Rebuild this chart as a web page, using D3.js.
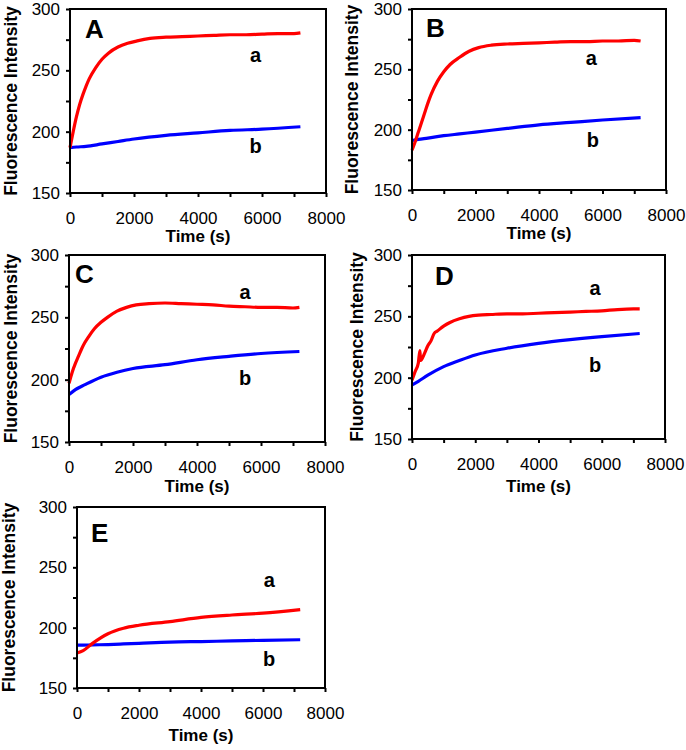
<!DOCTYPE html>
<html>
<head>
<meta charset="utf-8">
<script src="https://cdn.jsdelivr.net/npm/d3@7"></script>
<style>
  body { margin: 0; background: #fff; }
  svg { font-family: "Liberation Sans", Arial, sans-serif; }
</style>
</head>
<body>
<div id="chart"></div>
<script>
// time samples (s)
var times = [0, 100, 200, 300, 400, 500, 600, 800, 1000, 1200, 1500, 1800, 2100, 2500, 3000, 3500, 4000, 4500, 5000, 5500, 6000, 6500, 7000, 7200];
var slowTimes = [0, 200, 500, 1000, 1500, 2000, 3000, 4000, 5000, 6000, 7200];
var dTimes = [0, 100, 200, 250, 270, 400, 500, 600, 700, 800, 1000, 1200, 1500, 1800, 2100, 2500, 3000, 3500, 4000, 4500, 5000, 5500, 6000, 6500, 7000, 7200];

var redA = [187, 200, 212, 222, 230, 237, 243, 252, 259, 264, 269, 272, 274, 276, 277, 277.5, 278, 278.5, 279, 279, 279.5, 280, 280, 280.5];
var blueA = [187, 187.5, 188, 190, 192, 194, 197, 199, 201, 202, 204];

var redB = [183, 190, 198, 206, 214, 222, 229, 240, 248, 254, 260, 265, 268, 270, 271, 271.5, 272, 272.5, 273, 273, 273.5, 273.5, 274, 273.5];
var blueB = [191, 192, 193, 195, 196.5, 198, 201, 204, 206, 208, 210];

var redC = [197, 206, 213, 219, 225, 230, 234, 241, 246, 250, 255, 258, 260, 261, 261.5, 261, 260.5, 260, 259, 258.5, 258, 258, 257.5, 258];
var blueC = [188, 192, 196, 202, 206, 209, 212, 216, 218.7, 221, 222.6];

var redD = [198, 205, 212, 222, 214, 220, 226, 230, 236, 238, 242, 245, 248, 250, 251, 251.5, 252, 252, 252.5, 253, 253.5, 254, 254.5, 255.5, 256, 256];
var blueD = [194, 197, 202, 209, 214, 218.5, 224, 228, 231, 233.5, 236];

var redE = [179, 181, 187, 195, 199.5, 202, 205, 208.5, 210.5, 212, 215];
var blueE = [185.5, 185.5, 185.7, 186, 186.5, 187, 188, 188.5, 189, 189.5, 190];

var xTicks = d3.range(0, 8001, 1000);
var yTicks = d3.range(150, 301, 25);

var panels = [
  { letter: "A", box: [70, 9, 326, 193], red: [times, redA], blue: [slowTimes, blueA], a: [5800, 257], b: [5800, 183], lp: [15, 29], yl: 58, tl: 45 },
  { letter: "B", box: [412, 9, 666, 190], red: [times, redB], blue: [slowTimes, blueB], a: [5650, 254], b: [5700, 186], lp: [14, 28], yl: 59, tl: 45 },
  { letter: "C", box: [69, 255, 325, 442], red: [times, redC], blue: [slowTimes, blueC], a: [5500, 265], b: [5500, 196], lp: [6, 28], yl: 57, tl: 46 },
  { letter: "D", box: [412, 255, 665, 439], red: [dTimes, redD], blue: [slowTimes, blueD], a: [5790, 267], b: [5790, 205], lp: [23, 30], yl: 54, tl: 49 },
  { letter: "E", box: [77, 507, 325, 688], red: [slowTimes, redE], blue: [slowTimes, blueE], a: [6200, 234], b: [6200, 168], lp: [14, 35], yl: 67, tl: 49 }
];

var svg = d3.select("#chart").append("svg")
    .attr("width", 686)
    .attr("height", 750);

panels.forEach(function(p) {
    var x0 = p.box[0], y0 = p.box[1], x1 = p.box[2], y1 = p.box[3];
    var x = d3.scaleLinear().domain([0, 8000]).range([x0, x1]);
    var y = d3.scaleLinear().domain([150, 300]).range([y1, y0]);

    var g = svg.append("g");

    // lines
    var line = d3.line()
        .x(function(d) { return x(d[0]); })
        .y(function(d) { return y(d[1]); })
        .curve(d3.curveMonotoneX);

    [["blue", "#0000ff"], ["red", "#ff0000"]].forEach(function(s) {
        var src = p[s[0]];
        var pts = src[0].map(function(t, i) { return [t, src[1][i]]; });
        g.append("path")
            .attr("d", line(pts))
            .attr("fill", "none")
            .attr("stroke", s[1])
            .attr("stroke-width", 3.2)
            .attr("stroke-linejoin", "round");
    });

    // frame
    g.append("rect")
        .attr("x", x0).attr("y", y0)
        .attr("width", x1 - x0).attr("height", y1 - y0)
        .attr("fill", "none")
        .attr("stroke", "#000")
        .attr("stroke-width", 2);

    var xAxis = g.append("g")
        .attr("transform", "translate(0," + y1 + ")")
        .call(d3.axisBottom(x).tickValues(xTicks).tickSize(4).tickPadding(15)
            .tickFormat(function(d) { return d % 2000 === 0 ? d : ""; }));
    var yAxis = g.append("g")
        .attr("transform", "translate(" + x0 + ",0)")
        .call(d3.axisLeft(y).tickValues(yTicks).tickSize(4).tickPadding(6)
            .tickFormat(function(d) { return d % 50 === 0 ? d : ""; }));

    [xAxis, yAxis].forEach(function(ax) {
        ax.select(".domain").remove();
        ax.selectAll("line").attr("stroke", "#000").attr("stroke-width", 2);
        ax.selectAll("text").attr("fill", "#000").style("font-size", "17px")
            .style("font-family", "'Liberation Sans', Arial, sans-serif");
    });

    g.append("text")
        .attr("x", (x0 + x1) / 2)
        .attr("y", y1 + p.tl)
        .attr("text-anchor", "middle")
        .attr("dominant-baseline", "middle")
        .style("font-size", "17px")
        .style("font-weight", "bold")
        .text("Time (s)");

    g.append("text")
        .attr("transform", "translate(" + (x0 - p.yl) + "," + ((y0 + y1) / 2) + ") rotate(-90)")
        .attr("text-anchor", "middle")
        .attr("dominant-baseline", "middle")
        .style("font-size", "17.5px")
        .style("font-weight", "bold")
        .text("Fluorescence Intensity");

    g.append("text")
        .attr("x", x0 + p.lp[0])
        .attr("y", y0 + p.lp[1])
        .style("font-size", "26px")
        .style("font-weight", "bold")
        .text(p.letter);

    g.append("text")
        .attr("x", x(p.a[0])).attr("y", y(p.a[1]))
        .attr("text-anchor", "middle")
        .style("font-size", "20px")
        .style("font-weight", "bold")
        .text("a");
    g.append("text")
        .attr("x", x(p.b[0])).attr("y", y(p.b[1]))
        .attr("text-anchor", "middle")
        .style("font-size", "20px")
        .style("font-weight", "bold")
        .text("b");
});
</script>
</body>
</html>
